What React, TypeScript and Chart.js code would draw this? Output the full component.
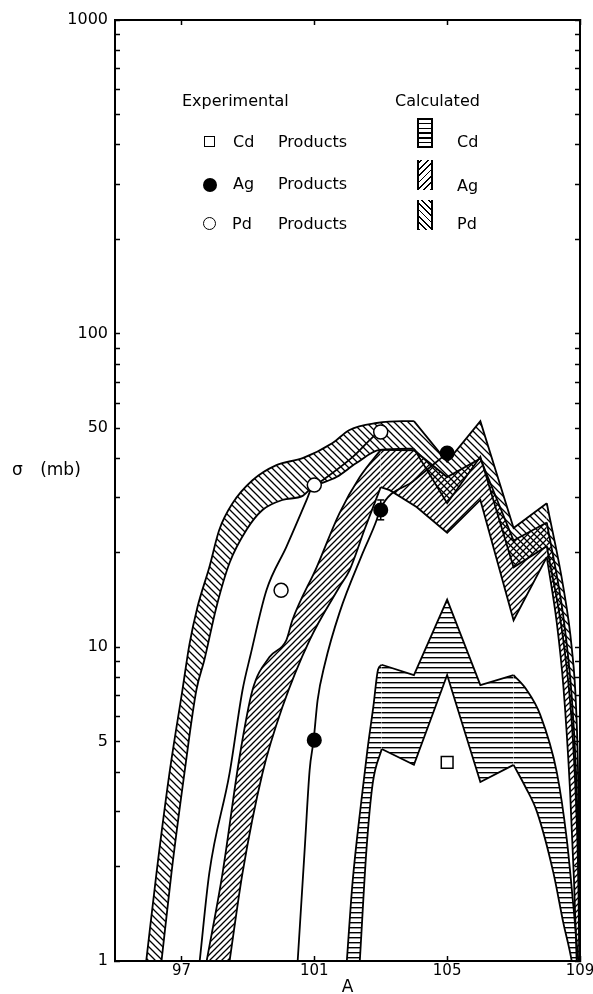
import React, { useEffect, useRef } from "react";
import { Chart, registerables } from "chart.js";

Chart.register(...registerables);

type Pt = [number, number];

// ---- axes ----
const X_MIN = 95;
const X_MAX = 109;
const X_TICKS = [97, 101, 105, 109];
const Y_MIN = 1;
const Y_MAX = 1000;
const Y_TICKS = [1, 2, 3, 4, 5, 6, 7, 8, 9, 10, 20, 30, 40, 50, 60, 70, 80, 90, 100, 200, 300, 400, 500, 600, 700, 800, 900, 1000];
const Y_TICK_LABELS = [1, 5, 10, 50, 100, 1000];

// ---- experimental points ----
const CD_EXP: Pt[] = [[105, 4.3]];
const AG_EXP: Pt[] = [[101, 5.06], [103, 27.4], [105, 41.6]];
const PD_EXP: Pt[] = [[100, 15.2], [101, 32.9], [103, 48.6]];
const AG_ERR: Pt[] = [[103, 25.5], [103, 29.5]];

// ---- experimental fitted curves ----
const PD_EXP_CURVE: Pt[] = [[97.55, 1], [97.84, 1.91], [98.45, 3.97], [98.84, 7.31], [99.08, 9.45], [99.56, 15.2], [100.16, 20.9], [100.77, 29.5], [100.92, 32.2], [101.25, 34.1], [102.15, 40.4], [102.76, 46.8], [102.94, 48.6]];
const AG_EXP_CURVE: Pt[] = [[100.5, 1], [100.71, 2.26], [100.86, 4.06], [100.98, 5.06], [101.1, 6.79], [101.31, 8.78], [101.76, 12.9], [102.46, 20], [102.88, 25.5], [102.97, 27.4], [104, 34], [105, 41.6]];

// ---- calculated bands (upper and lower edges) ----
const PD_CALC_UPPER: Pt[] = [[95.94, 1], [96.25, 1.91], [96.64, 3.97], [97.03, 7.31], [97.24, 10.2], [97.48, 13.4], [97.84, 18], [98.14, 23.7], [98.54, 28.8], [99.14, 34.1], [99.86, 38.1], [100.65, 40.1], [101.55, 44.8], [102.06, 49.3], [102.88, 51.9], [103.66, 52.6], [104, 52.6], [105, 39], [106, 52.6], [107, 24], [108, 28.8], [108.5, 15.5], [108.75, 10], [108.88, 6.5], [108.95, 3.5], [109, 1]];
const PD_CALC_LOWER: Pt[] = [[95.94, 0.38], [96.4, 1], [96.7, 1.91], [97.09, 3.97], [97.45, 7.31], [97.69, 9.11], [98.05, 13.4], [98.45, 18.6], [98.96, 23.7], [99.44, 27.4], [100.04, 29.5], [100.65, 30.4], [100.92, 32.2], [101.67, 34.9], [102.27, 38.7], [102.97, 42.6], [104, 43], [105, 28.8], [106, 40.5], [107, 18], [108, 21], [108.5, 10.5], [108.75, 5.8], [108.88, 3.2], [108.95, 1.8], [109, 0.7]];
const AG_CALC_UPPER: Pt[] = [[97.76, 1], [98.24, 1.91], [98.75, 4.47], [99.14, 7.31], [99.65, 9.31], [100.16, 10.55], [100.34, 12.2], [101.07, 18], [101.76, 26.8], [102.37, 34.9], [103, 42.6], [104, 42.5], [105, 34.9], [106, 40], [107, 21.9], [108, 25], [108.5, 12.5], [108.75, 7], [108.88, 4], [108.95, 2.2], [109, 0.9]];
const AG_CALC_LOWER: Pt[] = [[97.76, 0.32], [98.45, 1], [98.84, 1.91], [99.44, 3.97], [100.04, 6.45], [100.86, 10.55], [101.76, 15.6], [102.06, 17.6], [102.51, 23.7], [103, 32.4], [103.27, 31.7], [104.08, 28], [105, 23.2], [106, 29.5], [107, 12.2], [108, 19.4], [108.3, 12], [108.5, 7.5], [108.7, 3.5], [108.82, 1.8], [108.9, 1], [109, 0.5]];
const CD_CALC_UPPER: Pt[] = [[101.98, 1], [102.15, 1.77], [102.42, 3.26], [102.6, 4.71], [102.78, 6.5], [102.92, 8.5], [103.03, 8.8], [104, 8.16], [105, 14.2], [106, 7.58], [107, 8.16], [107.4, 7.3], [107.8, 6.1], [108.3, 4], [108.6, 2.45], [108.8, 1.5], [108.95, 1]];
const CD_CALC_LOWER: Pt[] = [[101.98, 0.22], [102.37, 1], [102.57, 2.26], [102.76, 3.69], [103.03, 4.74], [104, 4.22], [105, 8.16], [106, 3.72], [107, 4.22], [107.35, 3.6], [107.7, 3], [108.2, 1.91], [108.5, 1.32], [108.75, 1], [108.95, 0.7]];

// where each band switches between smooth and straight (zig-zag) drawing
const PD_BREAKS = [104, 108];
const AG_BREAKS = [103, 108];
const CD_BREAKS = [103.03, 107];

const toXY = (pts: Pt[]) => pts.map(([x, y]) => ({ x, y }));

const FONT = '"DejaVu Sans", "Liberation Sans", sans-serif';

export default function App() {
  const ref = useRef<HTMLCanvasElement>(null);

  useEffect(() => {
    const canvas = ref.current!;
    const cctx = canvas.getContext("2d")!;

    const makePattern = (kind: "h" | "f" | "b") => {
      const tile = document.createElement("canvas");
      const t = tile.getContext("2d")!;
      if (kind === "h") {
        tile.width = 6;
        tile.height = 5;
        t.fillStyle = "#000";
        t.fillRect(0, 2, 6, 1.4);
      } else {
        const s = kind === "f" ? 6 : 7;
        tile.width = s;
        tile.height = s;
        t.strokeStyle = "#000";
        t.lineWidth = 1.3;
        t.beginPath();
        if (kind === "f") {
          t.moveTo(0, s); t.lineTo(s, 0);
          t.moveTo(-1, 1); t.lineTo(1, -1);
          t.moveTo(s - 1, s + 1); t.lineTo(s + 1, s - 1);
        } else {
          t.moveTo(0, 0); t.lineTo(s, s);
          t.moveTo(-1, s - 1); t.lineTo(1, s + 1);
          t.moveTo(s - 1, -1); t.lineTo(s + 1, 1);
        }
        t.stroke();
      }
      return cctx.createPattern(tile, "repeat")!;
    };

    const edge = (pts: Pt[], extra: any = {}) => ({
      type: "line",
      data: toXY(pts),
      borderColor: "#000",
      borderWidth: 1.8,
      pointRadius: 0,
      tension: 0,
      fill: false,
      ...extra,
    });
    const smooth = { cubicInterpolationMode: "monotone", capBezierPoints: false };

    // a band = pairs of (upper, lower) datasets, split into smooth / straight pieces
    const band = (upper: Pt[], lower: Pt[], breaks: number[], pattern: CanvasPattern) => {
      const edges = [-Infinity, ...breaks, Infinity];
      const out: any[] = [];
      for (let i = 0; i < edges.length - 1; i++) {
        const a = edges[i], b = edges[i + 1];
        const u = upper.filter((p) => p[0] >= a && p[0] <= b);
        const l = lower.filter((p) => p[0] >= a && p[0] <= b);
        const style = i % 2 === 0 ? smooth : {};
        out.push(edge(u, { ...style, fill: "+1", backgroundColor: pattern }));
        out.push(edge(l, style));
      }
      return out;
    };

    const points = (pts: Pt[], extra: any) => ({
      type: "line",
      data: toXY(pts),
      showLine: false,
      pointStyle: "circle",
      pointBorderColor: "#000",
      pointBorderWidth: 1.5,
      ...extra,
    });

    const tickGrid = {
      display: true,
      drawOnChartArea: false,
      drawTicks: true,
      tickLength: -5,
      tickWidth: 1.5,
      tickColor: "#000",
    };
    const border = { display: true, color: "#000", width: 2 };
    const setYTicks = (s: any) => {
      s.ticks = Y_TICKS.map((v) => ({ value: v }));
    };
    const setXTicks = (s: any) => {
      s.ticks = X_TICKS.map((v) => ({ value: v }));
    };

    const chart = new Chart(canvas, {
      type: "line",
      data: {
        datasets: [
          points(CD_EXP, { pointStyle: "rect", pointRadius: 8.3, pointBackgroundColor: "#fff" }),
          points(AG_EXP, { pointRadius: 6.8, pointBackgroundColor: "#000" }),
          points(PD_EXP, { pointRadius: 7, pointBackgroundColor: "#fff" }),
          {
            type: "line",
            data: toXY(AG_ERR),
            borderColor: "#000",
            borderWidth: 1.5,
            pointStyle: "line",
            pointRadius: 3.5,
            pointBorderWidth: 1.5,
            pointBorderColor: "#000",
            fill: false,
          },
          edge(AG_EXP_CURVE, smooth),
          edge(PD_EXP_CURVE, smooth),
          ...band(CD_CALC_UPPER, CD_CALC_LOWER, CD_BREAKS, makePattern("h")),
          ...band(AG_CALC_UPPER, AG_CALC_LOWER, AG_BREAKS, makePattern("f")),
          ...band(PD_CALC_UPPER, PD_CALC_LOWER, PD_BREAKS, makePattern("b")),
        ] as any,
      },
      options: {
        responsive: false,
        animation: false,
        events: [],
        layout: { padding: 0, autoPadding: false },
        plugins: {
          legend: { display: false },
          tooltip: { enabled: false },
          title: { display: false },
        },
        scales: {
          x: {
            type: "linear",
            position: "bottom",
            min: X_MIN,
            max: X_MAX,
            grid: tickGrid,
            border,
            afterBuildTicks: setXTicks,
            afterFit: (s: any) => {
              s.height = 33;
              s.paddingLeft = 0;
              s.paddingRight = 0;
            },
            ticks: {
              color: "#000",
              font: { family: FONT, size: 15 },
              padding: 6,
              maxRotation: 0,
              autoSkip: false,
              callback: (v: any) => String(v),
            },
            title: {
              display: true,
              text: "A",
              color: "#000",
              font: { family: FONT, size: 17 },
              padding: { top: 0, bottom: -4 },
            },
          },
          x2: {
            type: "linear",
            position: "top",
            min: X_MIN,
            max: X_MAX,
            grid: tickGrid,
            border,
            afterBuildTicks: setXTicks,
            afterFit: (s: any) => {
              s.height = 20;
              s.paddingLeft = 0;
              s.paddingRight = 0;
            },
            ticks: { display: false },
          },
          y: {
            type: "logarithmic",
            position: "left",
            min: Y_MIN,
            max: Y_MAX,
            grid: tickGrid,
            border,
            afterBuildTicks: setYTicks,
            afterFit: (s: any) => {
              s.width = 115;
              s.paddingTop = 0;
              s.paddingBottom = 0;
            },
            ticks: {
              color: "#000",
              font: { family: FONT, size: 16 },
              padding: 12,
              autoSkip: false,
              callback: (v: any) => (Y_TICK_LABELS.includes(Number(v)) ? String(v) : ""),
            },
          },
          y2: {
            type: "logarithmic",
            position: "right",
            min: Y_MIN,
            max: Y_MAX,
            grid: tickGrid,
            border,
            afterBuildTicks: setYTicks,
            afterFit: (s: any) => {
              s.width = 13;
              s.paddingTop = 0;
              s.paddingBottom = 0;
            },
            ticks: { display: false },
          },
        },
      } as any,
    });
    return () => chart.destroy();
  }, []);

  const txt = (text: string, left: number, cy: number, size = 16, extra: any = {}) => (
    <div
      style={{
        position: "absolute",
        left,
        top: cy - 10,
        fontSize: size,
        lineHeight: "20px",
        whiteSpace: "nowrap",
        ...extra,
      }}
    >
      {text}
    </div>
  );

  const swatch = (top: number, height: number, bg: string) => (
    <div
      style={{
        position: "absolute",
        left: 417,
        top,
        width: 12,
        height,
        borderLeft: "2px solid #000",
        borderRight: "2px solid #000",
        backgroundImage: bg,
      }}
    />
  );

  return (
    <div
      style={{
        position: "fixed",
        left: 0,
        top: 0,
        width: 593,
        height: 994,
        overflow: "hidden",
        background: "#fff",
        color: "#000",
        fontFamily: FONT,
      }}
    >
      <canvas ref={ref} width={593} height={994} style={{ display: "block" }} />

      {txt("σ (mb)", 12, 469, 17, { wordSpacing: 12 })}

      {txt("Experimental", 182, 101)}
      <div style={{ position: "absolute", left: 204, top: 136, width: 9, height: 9, border: "1.5px solid #000" }} />
      {txt("Cd", 233, 142)}
      {txt("Products", 278, 142)}
      <div style={{ position: "absolute", left: 203, top: 178, width: 14, height: 14, borderRadius: "50%", background: "#000" }} />
      {txt("Ag", 233, 184)}
      {txt("Products", 278, 184)}
      <div style={{ position: "absolute", left: 203, top: 217, width: 11, height: 11, borderRadius: "50%", border: "1.5px solid #000" }} />
      {txt("Pd", 232, 224)}
      {txt("Products", 278, 224)}

      {txt("Calculated", 395, 101)}
      {swatch(118, 30, "repeating-linear-gradient(to bottom, #000 0 1.5px, transparent 1.5px 4.75px)")}
      {txt("Cd", 457, 142)}
      {swatch(160, 30, "repeating-linear-gradient(-45deg, #000 0 1.3px, transparent 1.3px 4.5px)")}
      {txt("Ag", 457, 186)}
      {swatch(200, 30, "repeating-linear-gradient(45deg, #000 0 1.3px, transparent 1.3px 4.5px)")}
      {txt("Pd", 457, 224)}
    </div>
  );
}
